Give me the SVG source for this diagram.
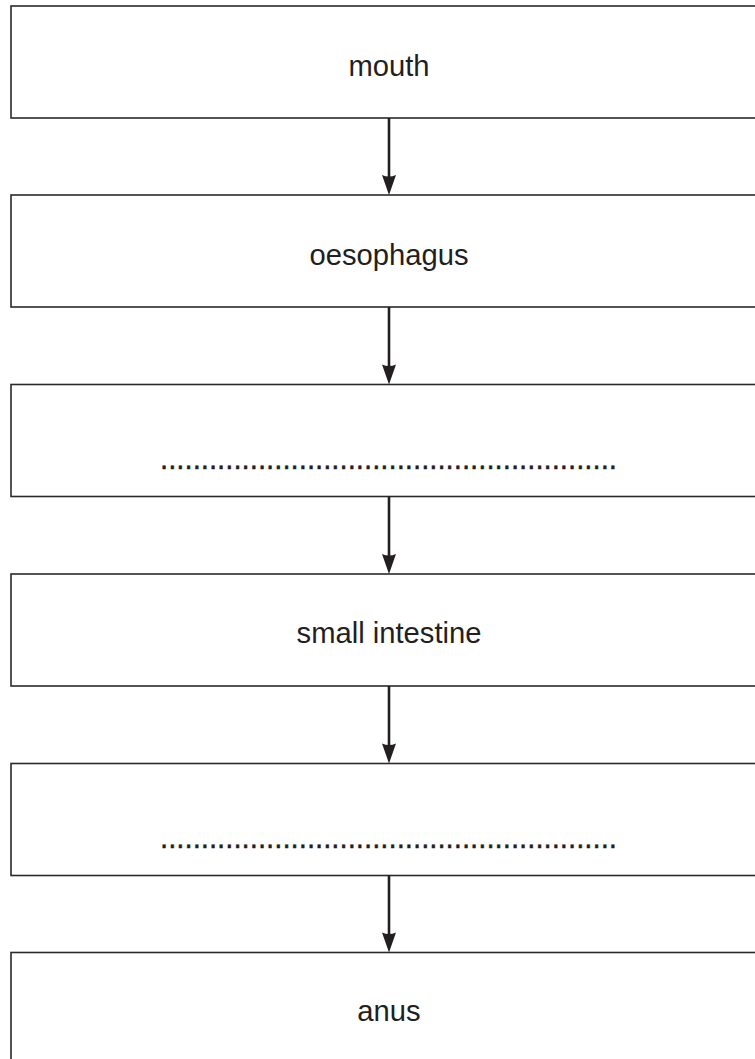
<svg xmlns="http://www.w3.org/2000/svg" width="755" height="1059" viewBox="0 0 755 1059">
<style>
.box{fill:#fff;stroke:#2a2a2a;stroke-width:1.6}
.lbl{font-family:"Liberation Sans",Arial,sans-serif;font-size:29.2px;fill:#231f20;text-anchor:middle}
.dots{font-family:"Liberation Sans",Arial,sans-serif;font-size:29.4px;fill:#231f20;stroke:#231f20;stroke-width:0.4}
.con{stroke:#231f20;stroke-width:2.6;fill:none}
</style>
<rect width="755" height="1059" fill="#fff"/>
<g id="mouth"><rect class="box" x="11" y="6" width="760" height="112"/><text class="lbl" x="389" y="76">mouth</text></g>
<g id="oesophagus"><rect class="box" x="11" y="195" width="760" height="112"/><text class="lbl" x="389" y="265">oesophagus</text></g>
<g id="blank1"><rect class="box" x="11" y="384.5" width="760" height="112"/><text class="dots" x="160" y="469" textLength="457" lengthAdjust="spacing">........................................................</text></g>
<g id="small-intestine"><rect class="box" x="11" y="574" width="760" height="112"/><text class="lbl" x="389" y="643">small intestine</text></g>
<g id="blank2"><rect class="box" x="11" y="763.5" width="760" height="112"/><text class="dots" x="160" y="847.5" textLength="457" lengthAdjust="spacing">........................................................</text></g>
<g id="anus"><rect class="box" x="11" y="952.5" width="760" height="112"/><text class="lbl" x="389" y="1021">anus</text></g>
<g id="connectors">
<line class="con" x1="389" y1="118" x2="389" y2="178"/>
<path d="M382,175 Q389,178 396,175 L389,195 Z" fill="#231f20"/>
<line class="con" x1="389" y1="307" x2="389" y2="367"/>
<path d="M382,364.5 Q389,367.5 396,364.5 L389,384.5 Z" fill="#231f20"/>
<line class="con" x1="389" y1="496.5" x2="389" y2="557"/>
<path d="M382,554 Q389,557 396,554 L389,574 Z" fill="#231f20"/>
<line class="con" x1="389" y1="686" x2="389" y2="746"/>
<path d="M382,743.5 Q389,746.5 396,743.5 L389,763.5 Z" fill="#231f20"/>
<line class="con" x1="389" y1="875.5" x2="389" y2="935"/>
<path d="M382,932.5 Q389,935.5 396,932.5 L389,952.5 Z" fill="#231f20"/>
</g>
</svg>
